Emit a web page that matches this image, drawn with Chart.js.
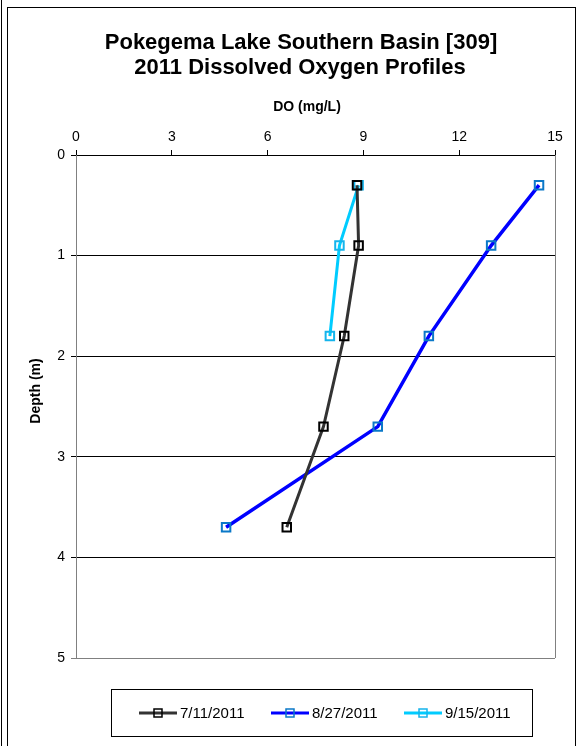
<!DOCTYPE html>
<html>
<head>
<meta charset="utf-8">
<script src="https://cdn.jsdelivr.net/npm/chart.js@4"></script>
<style>
  html, body { margin: 0; padding: 0; background: #fff; }
  #wrap { width: 578px; height: 746px; }
</style>
</head>
<body>
<div id="wrap"><canvas id="chart-do" width="578" height="746"></canvas></div>
<script>
// depth (m) for each profile
const depths = [0.3, 0.9, 1.8, 2.7, 3.7];
const depthsSep = [0.3, 0.9, 1.8];

// dissolved oxygen (mg/L)
const doJul = [8.8, 8.85, 8.4, 7.75, 6.6];
const doAug = [14.5, 13.0, 11.05, 9.45, 4.7];
const doSep = [8.85, 8.25, 7.95];

const seriesLabels = ['7/11/2011', '8/27/2011', '9/15/2011'];
const xTicks = [0, 3, 6, 9, 12, 15];
const yTicks = [0, 1, 2, 3, 4, 5];

const FONT = 'Arial, "Liberation Sans", sans-serif';

function toPoints(xs, ys) {
    return xs.map(function (v, i) { return { x: v, y: ys[i] }; });
}

// titles, frame and legend box
const decorations = {
    id: 'decorations',
    beforeDraw: function (chart) {
        const c = chart.ctx;
        c.save();
        c.fillStyle = '#fff';
        c.fillRect(0, 0, chart.width, chart.height);
        c.restore();
    },
    afterDraw: function (chart) {
        const c = chart.ctx;
        const area = chart.chartArea;
        c.save();

        // outer frame
        c.strokeStyle = '#000';
        c.lineWidth = 1;
        c.strokeRect(7.5, 7.5, 568, 760);
        c.beginPath();
        c.moveTo(1.5, 0);
        c.lineTo(1.5, 746);
        c.stroke();

        // right edge of plot area
        c.strokeStyle = '#808080';
        c.beginPath();
        c.moveTo(Math.round(area.right) + 0.5, area.top);
        c.lineTo(Math.round(area.right) + 0.5, area.bottom);
        c.stroke();

        // title
        c.fillStyle = '#000';
        c.textAlign = 'center';
        c.textBaseline = 'alphabetic';
        c.font = 'bold 22px ' + FONT;
        c.fillText('Pokegema Lake Southern Basin [309]', 301, 49);
        c.fillText('2011 Dissolved Oxygen Profiles', 300, 74);

        // axis titles
        c.font = 'bold 14px ' + FONT;
        c.fillText('DO (mg/L)', 307, 111);
        c.save();
        c.translate(40, 391);
        c.rotate(-Math.PI / 2);
        c.fillText('Depth (m)', 0, 0);
        c.restore();

        // legend
        c.strokeStyle = '#000';
        c.lineWidth = 1;
        c.strokeRect(111.5, 689.5, 421, 47);
        const starts = [139, 271, 404];
        const ly = 713;
        c.textBaseline = 'middle';
        chart.data.datasets.forEach(function (ds, i) {
            const x0 = starts[i];
            c.strokeStyle = ds.borderColor;
            c.lineWidth = 3;
            c.beginPath();
            c.moveTo(x0, ly);
            c.lineTo(x0 + 38, ly);
            c.stroke();
            c.strokeStyle = ds.pointBorderColor;
            c.lineWidth = 1.5;
            c.strokeRect(x0 + 15, ly - 4, 8, 8);
            c.fillStyle = '#000';
            c.textAlign = 'left';
            c.font = '15px ' + FONT;
            c.fillText(ds.label, x0 + 41, ly + 1);
        });

        c.restore();
    }
};

const ctx = document.getElementById('chart-do');

new Chart(ctx, {
    type: 'scatter',
    data: {
        datasets: [{
            label: seriesLabels[0],
            data: toPoints(doJul, depths),
            showLine: true,
            borderColor: '#333333',
            borderWidth: 3,
            pointStyle: 'rect',
            pointRadius: 6,
            pointBorderWidth: 2,
            pointBorderColor: '#000000',
            pointBackgroundColor: 'rgba(0,0,0,0)'
        }, {
            label: seriesLabels[1],
            data: toPoints(doAug, depths),
            showLine: true,
            borderColor: '#0000FF',
            borderWidth: 3.5,
            pointStyle: 'rect',
            pointRadius: 6,
            pointBorderWidth: 2,
            pointBorderColor: '#0A78C8',
            pointBackgroundColor: 'rgba(0,0,0,0)'
        }, {
            label: seriesLabels[2],
            data: toPoints(doSep, depthsSep),
            showLine: true,
            borderColor: '#00CCFF',
            borderWidth: 3,
            pointStyle: 'rect',
            pointRadius: 6,
            pointBorderWidth: 2,
            pointBorderColor: '#14B4EC',
            pointBackgroundColor: 'rgba(0,0,0,0)'
        }]
    },
    options: {
        responsive: false,
        animation: false,
        layout: {
            padding: { top: 115, left: 36, right: 23, bottom: 88 }
        },
        plugins: {
            legend: { display: false },
            title: { display: false },
            tooltip: { enabled: false }
        },
        scales: {
            x: {
                type: 'linear',
                position: 'top',
                min: 0,
                max: 15,
                afterFit: function (scale) { scale.height = 40; },
                afterBuildTicks: function (scale) {
                    scale.ticks = xTicks.map(function (v) { return { value: v }; });
                },
                grid: {
                    drawOnChartArea: false,
                    drawTicks: true,
                    tickLength: 5,
                    color: '#000'
                },
                border: { color: '#000', width: 1 },
                ticks: {
                    color: '#000',
                    padding: 4,
                    font: { family: FONT, size: 14 }
                }
            },
            y: {
                type: 'linear',
                reverse: true,
                min: 0,
                max: 5,
                afterFit: function (scale) { scale.width = 40; },
                afterBuildTicks: function (scale) {
                    scale.ticks = yTicks.map(function (v) { return { value: v }; });
                },
                grid: {
                    drawOnChartArea: true,
                    drawTicks: true,
                    tickLength: 5,
                    color: function (c) { return c.tick && c.tick.value === 5 ? '#808080' : '#000'; }
                },
                border: { color: '#808080', width: 1 },
                ticks: {
                    color: '#000',
                    padding: 6,
                    font: { family: FONT, size: 14 }
                }
            }
        }
    },
    plugins: [decorations]
});
</script>
</body>
</html>
